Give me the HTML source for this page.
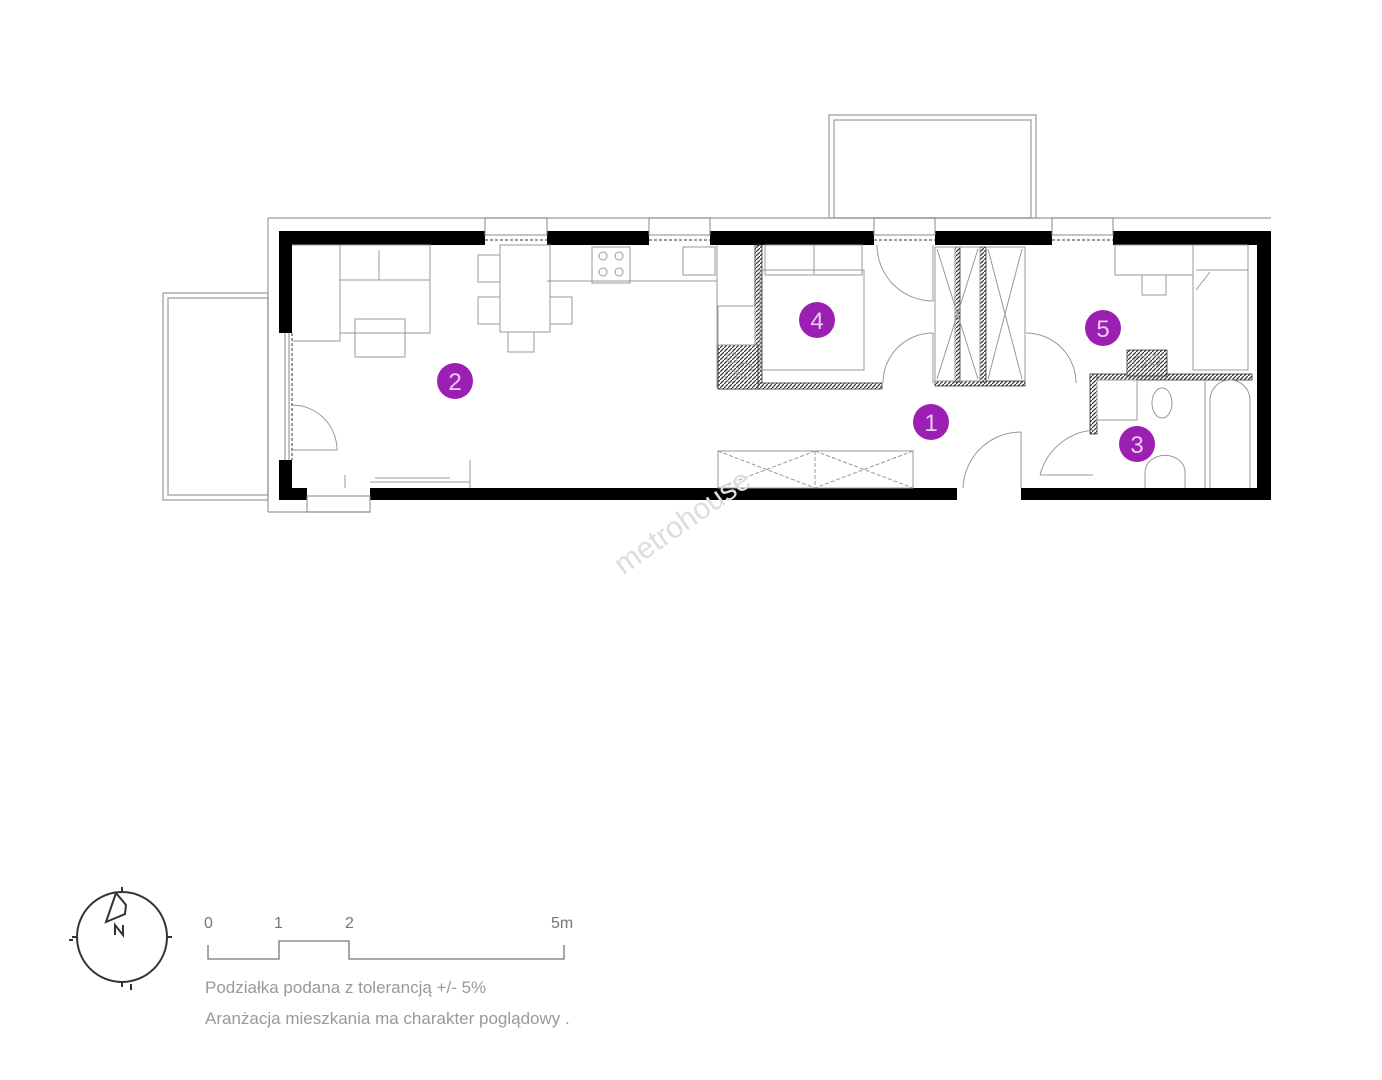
<!DOCTYPE html>
<html><head><meta charset="utf-8"><style>
html,body{margin:0;padding:0;background:#fff;}
svg{display:block}
text{font-family:"Liberation Sans",sans-serif}
</style></head><body>
<svg width="1382" height="1080" viewBox="0 0 1382 1080" xmlns="http://www.w3.org/2000/svg">
<defs>
<pattern id="h" width="4" height="4" patternUnits="userSpaceOnUse"><rect width="4" height="4" fill="#fff"/><path d="M0 4L4 0" stroke="#333" stroke-width="1.2"/></pattern>
</defs>
<g fill="none" stroke="#999" stroke-width="1.2">
<!-- balconies -->
<rect x="163" y="293" width="105" height="207"/><rect x="168" y="298" width="100" height="197"/>
<rect x="829" y="115" width="207" height="103"/><rect x="834" y="120" width="197" height="98"/>
<!-- outer thin -->
<path d="M268 218H1271M268 218V512M268 512H370"/>
</g>
<!-- black walls -->
<g fill="#000">
<rect x="279" y="231" width="206" height="14"/>
<rect x="547" y="231" width="102" height="14"/>
<rect x="710" y="231" width="164" height="14"/>
<rect x="935" y="231" width="117" height="14"/>
<rect x="1113" y="231" width="158" height="14"/>
<rect x="279" y="231" width="13" height="102"/>
<rect x="279" y="460" width="13" height="40"/>
<rect x="279" y="488" width="28" height="12"/>
<rect x="370" y="488" width="587" height="12"/>
<rect x="1021" y="488" width="250" height="12"/>
<rect x="1257" y="231" width="14" height="269"/>
</g>
<!-- windows -->
<g fill="none" stroke="#888" stroke-width="1">
<rect x="485" y="218" width="62" height="17"/><rect x="649" y="218" width="61" height="17"/>
<rect x="874" y="218" width="61" height="17"/><rect x="1052" y="218" width="61" height="17"/>
<path d="M485 240H547M649 240H710M874 240H935M1052 240H1113" stroke-dasharray="3 2" stroke="#333"/>
<rect x="307" y="496" width="63" height="16"/>
<path d="M285 333V460M289 333V460" />
<path d="M292 333V460" stroke-dasharray="3 2" stroke="#333"/>
</g>
<!-- hatched interior walls -->
<g fill="url(#h)" stroke="#333" stroke-width="0.8">
<rect x="755" y="245" width="7" height="143"/>
<rect x="718" y="383" width="164" height="6"/>
<rect x="718" y="345" width="40" height="44"/>
<rect x="935" y="381" width="90" height="5"/>
<rect x="955" y="247" width="5" height="135"/>
<rect x="980" y="247" width="6" height="135"/>
<rect x="1090" y="374" width="162" height="6"/>
<rect x="1090" y="374" width="7" height="60"/>
<rect x="1127" y="350" width="40" height="26"/>
</g>
<g fill="none" stroke="#999" stroke-width="1">
<circle cx="732" cy="358" r="5"/><circle cx="745" cy="370" r="7"/><circle cx="731" cy="376" r="6"/>
<circle cx="1140" cy="362" r="6"/><circle cx="1155" cy="360" r="5"/>
<!-- sofa -->
<path d="M292 245H430V333H340V341H292"/><path d="M340 280H430M340 245V341M379 250V280"/>
<rect x="355" y="319" width="50" height="38"/>
<!-- dining -->
<rect x="500" y="245" width="50" height="87"/><rect x="478" y="255" width="22" height="27"/><rect x="478" y="297" width="22" height="27"/><rect x="550" y="297" width="22" height="27"/><rect x="508" y="332" width="26" height="20"/>
<!-- kitchen -->
<path d="M547 281H717V245M717 245V388"/>
<rect x="592" y="247" width="38" height="36"/>
<circle cx="603" cy="256" r="4"/><circle cx="619" cy="256" r="4"/><circle cx="603" cy="272" r="4"/><circle cx="619" cy="272" r="4"/>
<rect x="683" y="247" width="32" height="28"/><rect x="718" y="306" width="37" height="39"/>
<!-- bedroom 4 -->
<rect x="765" y="245" width="97" height="30"/><path d="M814 245V275"/>
<rect x="760" y="270" width="104" height="100"/>
<!-- doors -->
<path d="M877 245A56 56 0 0 0 933 301V245"/>
<path d="M933 333A50 50 0 0 0 883 383M933 333V383"/>
<path d="M1026 333A50 50 0 0 1 1076 383"/>
<path d="M1021 432A58 58 0 0 0 963 488M1021 432V488"/>
<path d="M1040 475A60 60 0 0 1 1095 430M1040 475H1093"/>
<path d="M292 405A45 45 0 0 1 337 450H292"/>
<!-- wardrobes -->
<rect x="935" y="247" width="20" height="134"/><rect x="935" y="247" width="45" height="134"/>
<path d="M937 249L978 379M978 249L937 379M988 249L1022 379M1022 249L988 379M986 247H1025V381"/>
<rect x="718" y="451" width="195" height="37"/>
<path d="M718 451L815 488M815 451L718 488M815 451L913 488M913 451L815 488M815 451V488" stroke-dasharray="4 2"/>
<!-- TV -->
<path d="M345 488V475M470 488V460M375 478H450M370 482H470"/>
<!-- room 5 -->
<rect x="1115" y="245" width="78" height="30"/><rect x="1142" y="275" width="24" height="20"/>
<rect x="1193" y="245" width="55" height="125"/><path d="M1196 270H1248M1196 290L1210 272"/>
<!-- bath -->
<rect x="1097" y="380" width="40" height="40"/>
<path d="M1210 488V400A20 20 0 0 1 1250 400V488M1205 380V488"/>
<ellipse cx="1162" cy="403" rx="10" ry="15"/>
<path d="M1145 488V472A18 15 0 0 1 1185 472V488"/>
</g>
<!-- watermark -->
<text x="688" y="530" transform="rotate(-35 688 530)" text-anchor="middle" font-size="30" fill="#ddd">metrohouse</text>
<!-- labels -->
<g fill="#9b1fb3">
<circle cx="455" cy="381" r="18"/><circle cx="817" cy="320" r="18"/><circle cx="1103" cy="328" r="18"/><circle cx="931" cy="422" r="18"/><circle cx="1137" cy="444" r="18"/>
</g>
<g fill="#f0c8f5" font-size="24" text-anchor="middle">
<text x="455" y="390">2</text><text x="817" y="329">4</text><text x="1103" y="337">5</text><text x="931" y="431">1</text><text x="1137" y="453">3</text>
</g>
<!-- compass -->
<g fill="none" stroke="#333" stroke-width="2">
<circle cx="122" cy="937" r="45"/>
<path d="M77 937H72M167 937H172M122 892V887M122 982V987M73 940l-4 0M131 984v6"/>
<path d="M116 893L106 922L125 914L126 905Z" fill="#fff"/>
<path d="M115 935V925L123 935V925" stroke-width="2"/>
</g>
<!-- scale -->
<g fill="none" stroke="#777" stroke-width="1.3">
<path d="M208 945V959H279V941H349V959H564V945"/>
</g>
<g fill="#777" font-size="16">
<text x="204" y="928">0</text><text x="274" y="928">1</text><text x="345" y="928">2</text><text x="551" y="928">5m</text>
</g>
<g fill="#999" font-size="17">
<text x="205" y="993">Podziałka podana z tolerancją +/- 5%</text>
<text x="205" y="1024">Aranżacja mieszkania ma charakter poglądowy .</text>
</g>
</svg>
</body></html>
